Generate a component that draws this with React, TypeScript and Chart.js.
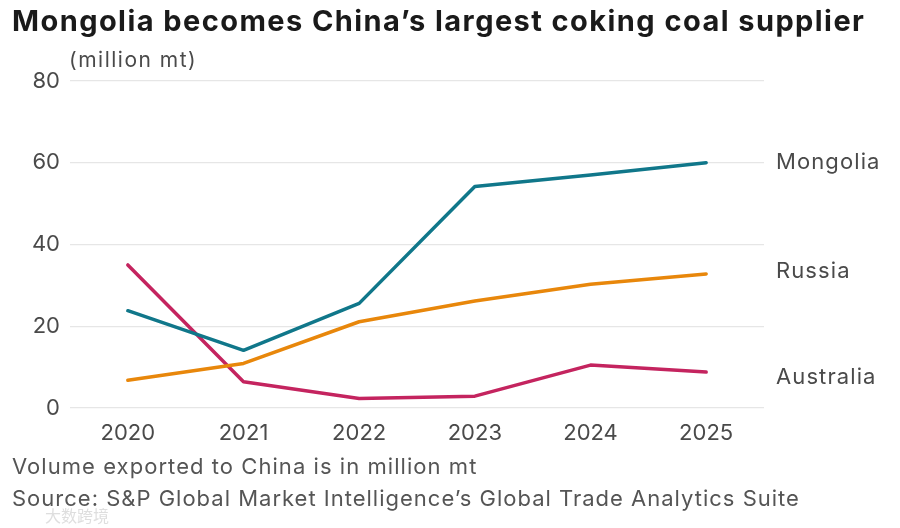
import React, { useEffect, useRef } from "react";
import { Chart, registerables } from "chart.js";

Chart.register(...registerables);

const years = ["2020", "2021", "2022", "2023", "2024", "2025"];
const mongolia = [23.8, 14.1, 25.6, 54.2, 57.0, 60.0];
const russia = [6.8, 10.9, 21.1, 26.2, 30.3, 32.8];
const australia = [35.0, 6.4, 2.3, 2.9, 10.5, 8.8];
const seriesNames = ["Mongolia", "Russia", "Australia"];
const yTicks = [0, 20, 40, 60, 80];

const COLORS = ["#10778a", "#e8870b", "#c4245f"];
const LABEL_DY = [0, -3, 5];
const FONT = "Inter, 'Noto Sans', sans-serif";

const endLabels = {
  id: "endLabels",
  afterDatasetsDraw(chart: any) {
    const ctx = chart.ctx;
    ctx.save();
    ctx.font = `22px ${FONT}`;
    try { (ctx as any).letterSpacing = "1.1px"; } catch (e) {}
    ctx.fillStyle = "#4a4a4a";
    ctx.textBaseline = "middle";
    ctx.textAlign = "left";
    chart.data.datasets.forEach((ds: any, i: number) => {
      const meta = chart.getDatasetMeta(i);
      const pt = meta.data[meta.data.length - 1];
      ctx.fillText(ds.label, chart.chartArea.right + 12, pt.y + LABEL_DY[i]);
    });
    ctx.restore();
  },
};

export default function App() {
  const ref = useRef<HTMLCanvasElement>(null);
  useEffect(() => {
    const chart = new Chart(ref.current!, {
      type: "line",
      data: {
        labels: years,
        datasets: [mongolia, russia, australia].map((d, i) => ({
          label: seriesNames[i],
          data: d,
          borderColor: COLORS[i],
          backgroundColor: COLORS[i],
          borderWidth: 3.5,
          pointRadius: 0,
          tension: 0,
          borderCapStyle: "round" as const,
          borderJoinStyle: "round" as const,
        })),
      },
      options: {
        animation: false,
        responsive: false,
        maintainAspectRatio: false,
        layout: { padding: { left: 0, top: 81, right: 136, bottom: 0 } },
        plugins: { legend: { display: false }, tooltip: { enabled: false } },
        scales: {
          x: {
            offset: true,
            grid: { display: false, drawTicks: false },
            border: { display: false },
            ticks: { padding: 12, color: "#4a4a4a", font: { family: FONT, size: 22 } },
            afterFit(s: any) { s.height = 120; },
          },
          y: {
            min: 0,
            max: 80,
            afterBuildTicks(s: any) { s.ticks = yTicks.map((v) => ({ value: v })); },
            grid: { color: "#e6e6e6", lineWidth: 1.2, drawTicks: false },
            border: { display: false },
            ticks: { padding: 10, color: "#4a4a4a", font: { family: FONT, size: 22 } },
            afterFit(s: any) { s.width = 70; },
          },
        },
      },
      plugins: [endLabels],
    });
    return () => chart.destroy();
  }, []);

  return (
    <div style={{ position: "absolute", left: 0, top: 0, width: 900, height: 528, background: "#fff", overflow: "hidden", fontFamily: FONT }}>
      <canvas ref={ref} width={900} height={528} style={{ position: "absolute", left: 0, top: 0, width: 900, height: 528 }} />
      <div style={{ position: "absolute", left: 12, top: 3, fontSize: 29, fontWeight: 700, color: "#1a1a1a", whiteSpace: "nowrap", letterSpacing: 1.43 }}>
        Mongolia becomes China’s largest coking coal supplier
      </div>
      <div style={{ position: "absolute", left: 69, top: 47, fontSize: 21, color: "#4a4a4a", whiteSpace: "nowrap", letterSpacing: 1.5 }}>
        (million mt)
      </div>
      <div style={{ position: "absolute", left: 12, top: 453, fontSize: 22, color: "#555", whiteSpace: "nowrap", letterSpacing: 1.05 }}>
        Volume exported to China is in million mt
      </div>
      <div style={{ position: "absolute", left: 12, top: 485, fontSize: 22, color: "#555", whiteSpace: "nowrap", letterSpacing: 1 }}>
        Source: S&amp;P Global Market Intelligence’s Global Trade Analytics Suite
      </div>
      <div style={{ position: "absolute", left: 45, top: 503, fontSize: 16, color: "rgba(200,200,200,0.6)", whiteSpace: "nowrap", fontFamily: "'Noto Sans CJK SC', sans-serif" }}>
        大数跨境
      </div>
    </div>
  );
}
